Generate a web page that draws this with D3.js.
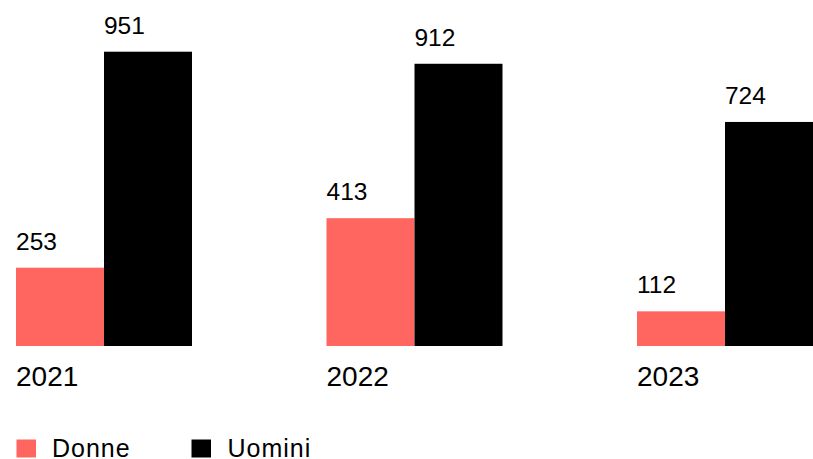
<!DOCTYPE html>
<html><head><meta charset="utf-8">
<script src="https://cdn.jsdelivr.net/npm/d3@7"></script>
<style>body{margin:0;background:#fff}svg{display:block}text{font-family:"Liberation Sans",Arial,sans-serif;fill:#000}</style>
</head><body>
<script>
const years = ["2021","2022","2023"];
const series = ["Donne","Uomini"];
const donne = [253,413,112];
const uomini = [951,912,724];
const colors = ["#ff665f","#000000"];

const W=813,H=459;
const svg=d3.select("body").append("svg").attr("width",W).attr("height",H);
const x=d3.scaleBand().domain(years).range([16,813]).paddingInner(0.4332).paddingOuter(0);
const xs=d3.scaleBand().domain(series).range([0,x.bandwidth()]);
const y=d3.scaleLinear().domain([0,951]).range([346,51.7]);
const vals=[donne,uomini];

years.forEach((yr,i)=>{
  const g=svg.append("g").attr("transform",`translate(${x(yr)},0)`);
  series.forEach((s,j)=>{
    const v=vals[j][i];
    g.append("rect").attr("x",xs(s)).attr("width",xs.bandwidth())
      .attr("y",y(v)).attr("height",y(0)-y(v)).attr("fill",colors[j]);
    g.append("text").attr("x",xs(s)).attr("y",y(v)-18).attr("font-size",24.5).text(v);
  });
  g.append("text").attr("x",0).attr("y",y(0)+39.5).attr("font-size",28).text(yr);
});

const leg=[{x:16.5,tx:52},{x:191.5,tx:227.5}];
series.forEach((s,j)=>{
  svg.append("rect").attr("x",leg[j].x).attr("y",439.5).attr("width",19.5).attr("height",18).attr("fill",colors[j]);
  svg.append("text").attr("x",leg[j].tx).attr("y",457).attr("font-size",25).attr("letter-spacing",1).text(s);
});
</script>
</body></html>
